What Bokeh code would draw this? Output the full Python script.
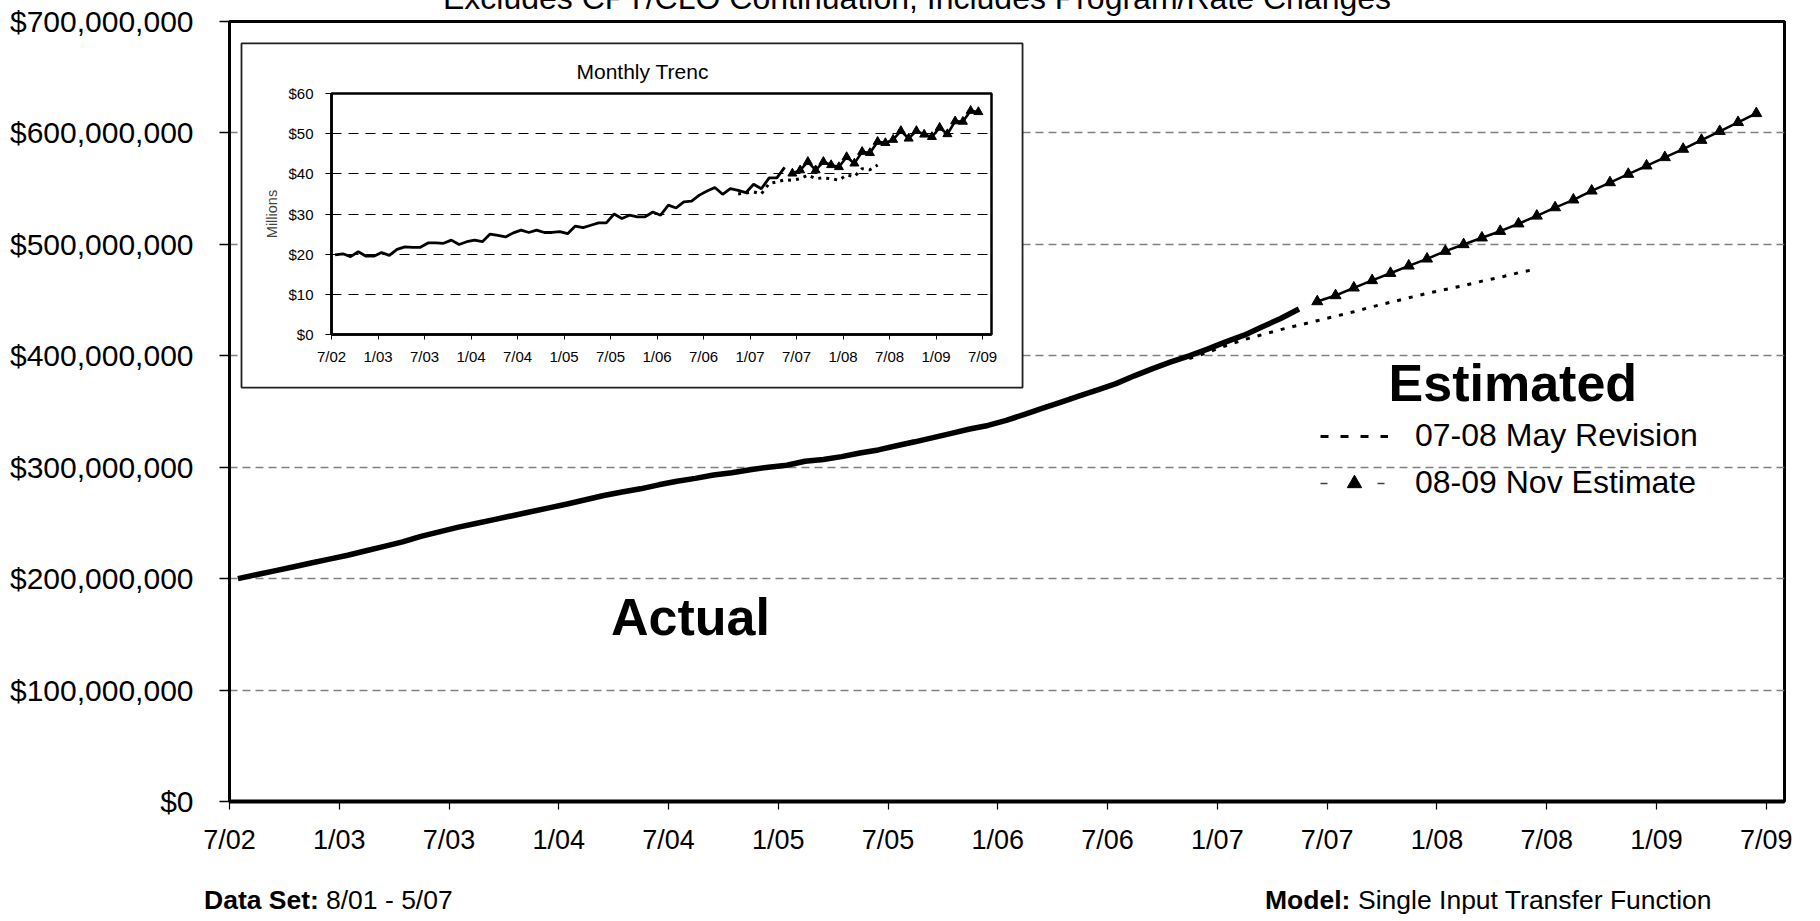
from bokeh.plotting import figure
from bokeh.models import (Range1d, FixedTicker, NumeralTickFormatter, Label, Legend, LegendItem,
                          BoxAnnotation, Div)
from bokeh.layouts import column
from bokeh.embed import file_html
from bokeh.resources import INLINE

FONT = "Liberation Sans"

# ---------------- data ----------------
# x = months counted from Jul 2002 (0); each value is dated mid-month
MID = 0.46
tick_months = [0, 6, 12, 18, 24, 30, 36, 42, 48, 54, 60, 66, 72, 78, 84]
tick_labels = ["7/02", "1/03", "7/03", "1/04", "7/04", "1/05", "7/05", "1/06",
               "7/06", "1/07", "7/07", "1/08", "7/08", "1/09", "7/09"]

# Main chart: 12-month totals, $ millions
actual_months = list(range(0, 59))          # 7/02 .. 5/07
actual_total = [200.0, 203.5, 207.0, 210.5, 214.0, 217.5, 221.0, 225.0, 229.0, 233.0,
                238.0, 242.0, 246.0, 249.5, 253.0, 256.5, 260.0, 263.5, 267.0, 270.8,
                274.6, 277.8, 280.6, 284.2, 287.4, 290.0, 293.0, 295.0, 297.8, 300.0,
                301.8, 305.4, 307.0, 309.5, 312.8, 315.5, 319.3, 322.8, 326.5, 330.4,
                334.3, 337.5, 342.0, 347.5, 353.0, 358.5, 364.0, 369.5, 375.0, 382.0,
                388.5, 394.5, 400.0, 406.0, 412.5, 418.5, 426.0, 433.5, 442.0]

may_rev_months = list(range(52, 72))        # 11/06 .. 6/08
may_rev_total = [397.5, 403.0, 409.0, 414.5, 419.0, 423.5, 427.5, 431.5, 435.5, 439.5,
                 444.0, 448.0, 452.0, 456.0, 459.5, 463.0, 467.0, 470.5, 474.5, 478.0]

nov_est_months = list(range(59, 84))        # 6/07 .. 6/09
nov_est_total = [448.7, 454.1, 461.0, 467.6, 474.1, 480.7, 487.0, 493.9, 499.9, 505.9,
                 511.8, 518.5, 525.5, 533.0, 540.0, 548.0, 555.5, 563.0, 570.5, 578.0,
                 585.5, 593.5, 601.5, 609.5, 617.5]

# Inset: monthly values, $ millions
monthly_actual = [19.8, 20.1, 19.4, 20.6, 19.5, 19.5, 20.4, 19.7, 21.2, 21.8,
                  21.7, 21.7, 22.8, 22.8, 22.7, 23.5, 22.4, 23.1, 23.5, 23.1,
                  25.0, 24.7, 24.3, 25.3, 26.0, 25.4, 26.0, 25.4, 25.4, 25.6,
                  25.1, 27.0, 26.6, 27.2, 27.8, 27.8, 30.0, 28.9, 29.7, 29.3,
                  29.3, 30.5, 29.7, 32.2, 31.5, 33.0, 33.2, 34.7, 35.7, 36.6,
                  34.9, 36.3, 35.9, 35.3, 37.4, 36.3, 39.0, 39.0, 41.6]
monthly_may_rev_months = list(range(52, 71))
monthly_may_rev = [35.0, 35.2, 35.5, 35.0, 37.6, 38.0, 38.5, 38.4, 38.8, 39.7,
                   38.8, 39.0, 38.8, 38.4, 39.7, 39.3, 41.3, 41.0, 42.2]
monthly_nov_est = [40.1, 40.9, 43.0, 40.9, 43.0, 42.2, 41.7, 44.2, 42.6, 45.5,
                   45.2, 48.0, 47.7, 48.5, 50.7, 48.8, 50.7, 49.8, 49.2, 51.5,
                   49.9, 53.1, 53.0, 55.7, 55.4]

y_ticks_main = [0, 100, 200, 300, 400, 500, 600, 700]
y_ticks_inset = [0, 10, 20, 30, 40, 50, 60]

M = 1e6


def xs(months):
    return [m + MID for m in months]


# ---------------- main chart ----------------
p = figure(width=1820, height=921, x_range=Range1d(0, 85.0), y_range=Range1d(0, 700 * M),
           output_backend="svg", toolbar_location=None,
           min_border_left=229, min_border_right=36, min_border_top=21, min_border_bottom=120)
p.title.visible = False
p.outline_line_color = "black"
p.outline_line_width = 3
p.background_fill_color = "white"
p.border_fill_color = "white"

p.yaxis.ticker = FixedTicker(ticks=[v * M for v in y_ticks_main])
p.yaxis.formatter = NumeralTickFormatter(format="$0,0")
p.yaxis.major_label_text_font = FONT
p.yaxis.major_label_text_font_size = "30px"
p.yaxis.major_label_text_color = "black"
p.yaxis.major_tick_out = 10
p.yaxis.major_tick_in = 0
p.yaxis.minor_tick_line_color = None
p.yaxis.major_tick_line_width = 1.5
p.yaxis.major_label_standoff = 26
p.yaxis.axis_line_width = 3

p.xaxis.ticker = FixedTicker(ticks=tick_months)
p.xaxis.major_label_overrides = {m: l for m, l in zip(tick_months, tick_labels)}
p.xaxis.major_label_text_font = FONT
p.xaxis.major_label_text_font_size = "27px"
p.xaxis.major_label_text_color = "black"
p.xaxis.major_tick_out = 8
p.xaxis.major_tick_in = 0
p.xaxis.minor_tick_line_color = None
p.xaxis.major_tick_line_width = 1.2
p.xaxis.major_label_standoff = 15
p.xaxis.axis_line_width = 4

p.xgrid.visible = False
p.ygrid.ticker = FixedTicker(ticks=[v * M for v in y_ticks_main])
p.ygrid.grid_line_color = "#808080"
p.ygrid.grid_line_dash = "8 5"
p.ygrid.grid_line_width = 1.3

p.line(xs(actual_months), [v * M for v in actual_total], line_color="black", line_width=5.5)
p.line(xs(may_rev_months), [v * M for v in may_rev_total], line_color="black", line_width=3,
       line_dash="4 8")
p.line(xs(nov_est_months), [v * M for v in nov_est_total], line_color="black", line_width=2.5)
p.scatter(xs(nov_est_months), [v * M for v in nov_est_total], marker="triangle", size=11,
          fill_color="black", line_color="black")

p.add_layout(Label(x=25.2, y=166 * M, text="Actual", text_align="center",
                   text_baseline="middle", text_font=FONT, text_font_size="52px",
                   text_font_style="bold", text_color="black"))
p.add_layout(Label(x=70.15, y=375.6 * M, text="Estimated", text_align="center",
                   text_baseline="middle", text_font=FONT, text_font_size="52px",
                   text_font_style="bold", text_color="black"))

# white box behind the inset chart
p.add_layout(BoxAnnotation(left=0.656, right=43.35, top=680.3 * M, bottom=371.5 * M,
                           fill_color="white", fill_alpha=1.0,
                           line_color="#202020", line_alpha=1.0, line_width=1.8))

# legend (hidden proxy renderers provide the samples)
leg_may = p.line(xs(may_rev_months[:1]), [may_rev_total[0] * M], line_color="black", line_width=3,
                 line_dash="8 12", visible=False)
leg_nov_line = p.line(xs(nov_est_months[:1]), [nov_est_total[0] * M], line_color="#404040",
                      line_width=1.5, line_dash="7 50", visible=False)
leg_nov_mark = p.scatter(xs(nov_est_months[:1]), [nov_est_total[0] * M], marker="triangle", size=14,
                         fill_color="black", line_color="black", visible=False)
legend = Legend(items=[LegendItem(label="07-08 May Revision", renderers=[leg_may]),
                       LegendItem(label="08-09 Nov Estimate", renderers=[leg_nov_line, leg_nov_mark])],
                location=(1091, 300), padding=0, margin=0, spacing=10,
                glyph_width=68, glyph_height=36, label_standoff=27,
                label_text_font=FONT, label_text_font_size="32px", label_text_color="black",
                border_line_alpha=0, background_fill_alpha=0)
p.add_layout(legend)

# ---------------- inset chart ----------------
# its borders match the main chart's (the column aligns them); border area is transparent
pi = figure(width=925, height=344, x_range=Range1d(0, 85.15), y_range=Range1d(0, 60),
            output_backend="svg", toolbar_location=None,
            min_border_left=229, min_border_right=36, min_border_top=50, min_border_bottom=53)
pi.title.visible = False
pi.outline_line_color = "black"
pi.outline_line_width = 2.5
pi.border_fill_alpha = 0.0
pi.background_fill_color = "white"
pi.styles = {"position": "absolute", "left": "101.5px", "top": "43px", "z-index": "5"}

pi.yaxis.ticker = FixedTicker(ticks=y_ticks_inset)
pi.yaxis.formatter = NumeralTickFormatter(format="$0")
pi.yaxis.major_label_text_font = FONT
pi.yaxis.major_label_text_font_size = "15px"
pi.yaxis.major_label_text_color = "black"
pi.yaxis.major_tick_out = 6
pi.yaxis.major_tick_in = 0
pi.yaxis.minor_tick_line_color = None
pi.yaxis.major_label_standoff = 12
pi.yaxis.axis_line_width = 2.5
pi.yaxis.axis_label = "Millions"
pi.yaxis.axis_label_text_font = FONT
pi.yaxis.axis_label_text_font_size = "14.5px"
pi.yaxis.axis_label_text_font_style = "normal"
pi.yaxis.axis_label_standoff = 5

pi.xaxis.ticker = FixedTicker(ticks=tick_months)
pi.xaxis.major_label_overrides = {m: l for m, l in zip(tick_months, tick_labels)}
pi.xaxis.major_label_text_font = FONT
pi.xaxis.major_label_text_font_size = "15px"
pi.xaxis.major_label_text_color = "black"
pi.xaxis.major_tick_out = 5
pi.xaxis.major_tick_in = 0
pi.xaxis.minor_tick_line_color = None
pi.xaxis.major_label_standoff = 8
pi.xaxis.axis_line_width = 2.5

pi.xgrid.visible = False
pi.ygrid.ticker = FixedTicker(ticks=y_ticks_inset)
pi.ygrid.grid_line_color = "black"
pi.ygrid.grid_line_dash = "10 7"
pi.ygrid.grid_line_width = 1.2

pi.line(xs(actual_months), monthly_actual, line_color="black", line_width=2.8)
pi.line(xs(monthly_may_rev_months), monthly_may_rev, line_color="black", line_width=3,
        line_dash="3 5")
pi.line(xs(nov_est_months), monthly_nov_est, line_color="black", line_width=2.6)
pi.scatter(xs(nov_est_months), monthly_nov_est, marker="triangle", size=9,
           fill_color="black", line_color="black")


# ---------------- texts outside the plot frames ----------------
def text_div(html, left, top, size, bold=False, width=700, align="left"):
    d = Div(text=html, width=width)
    d.styles = {"position": "absolute", "left": f"{left}px", "top": f"{top}px",
                "font-family": FONT, "font-size": f"{size}px", "line-height": f"{size}px",
                "font-weight": "bold" if bold else "normal", "color": "black",
                "white-space": "nowrap", "text-align": align, "z-index": "10",
                "margin": "0", "padding": "0"}
    return d


title_div = text_div("Excludes CPT/CLO Continuation, Includes Program/Rate Changes",
                     217, -17.6, 32, width=1400, align="center")
inset_title_div = text_div("Monthly Trenc", 576.5, 61.4, 21, width=200)
FOOT_TOP = 886.5
foot1 = text_div("Data Set:", 204, FOOT_TOP, 26.5, bold=True, width=200)
foot2 = text_div("8/01 - 5/07", 326, FOOT_TOP, 26.5, width=300)
foot3 = text_div("Model:", 1265, FOOT_TOP, 26.5, bold=True, width=200)
foot4 = text_div("Single Input Transfer Function", 1358, FOOT_TOP, 26.5, width=450)

root = column(p, pi, title_div, inset_title_div, foot1, foot2, foot3, foot4)
open("out.html", "w").write(file_html(root, INLINE))
